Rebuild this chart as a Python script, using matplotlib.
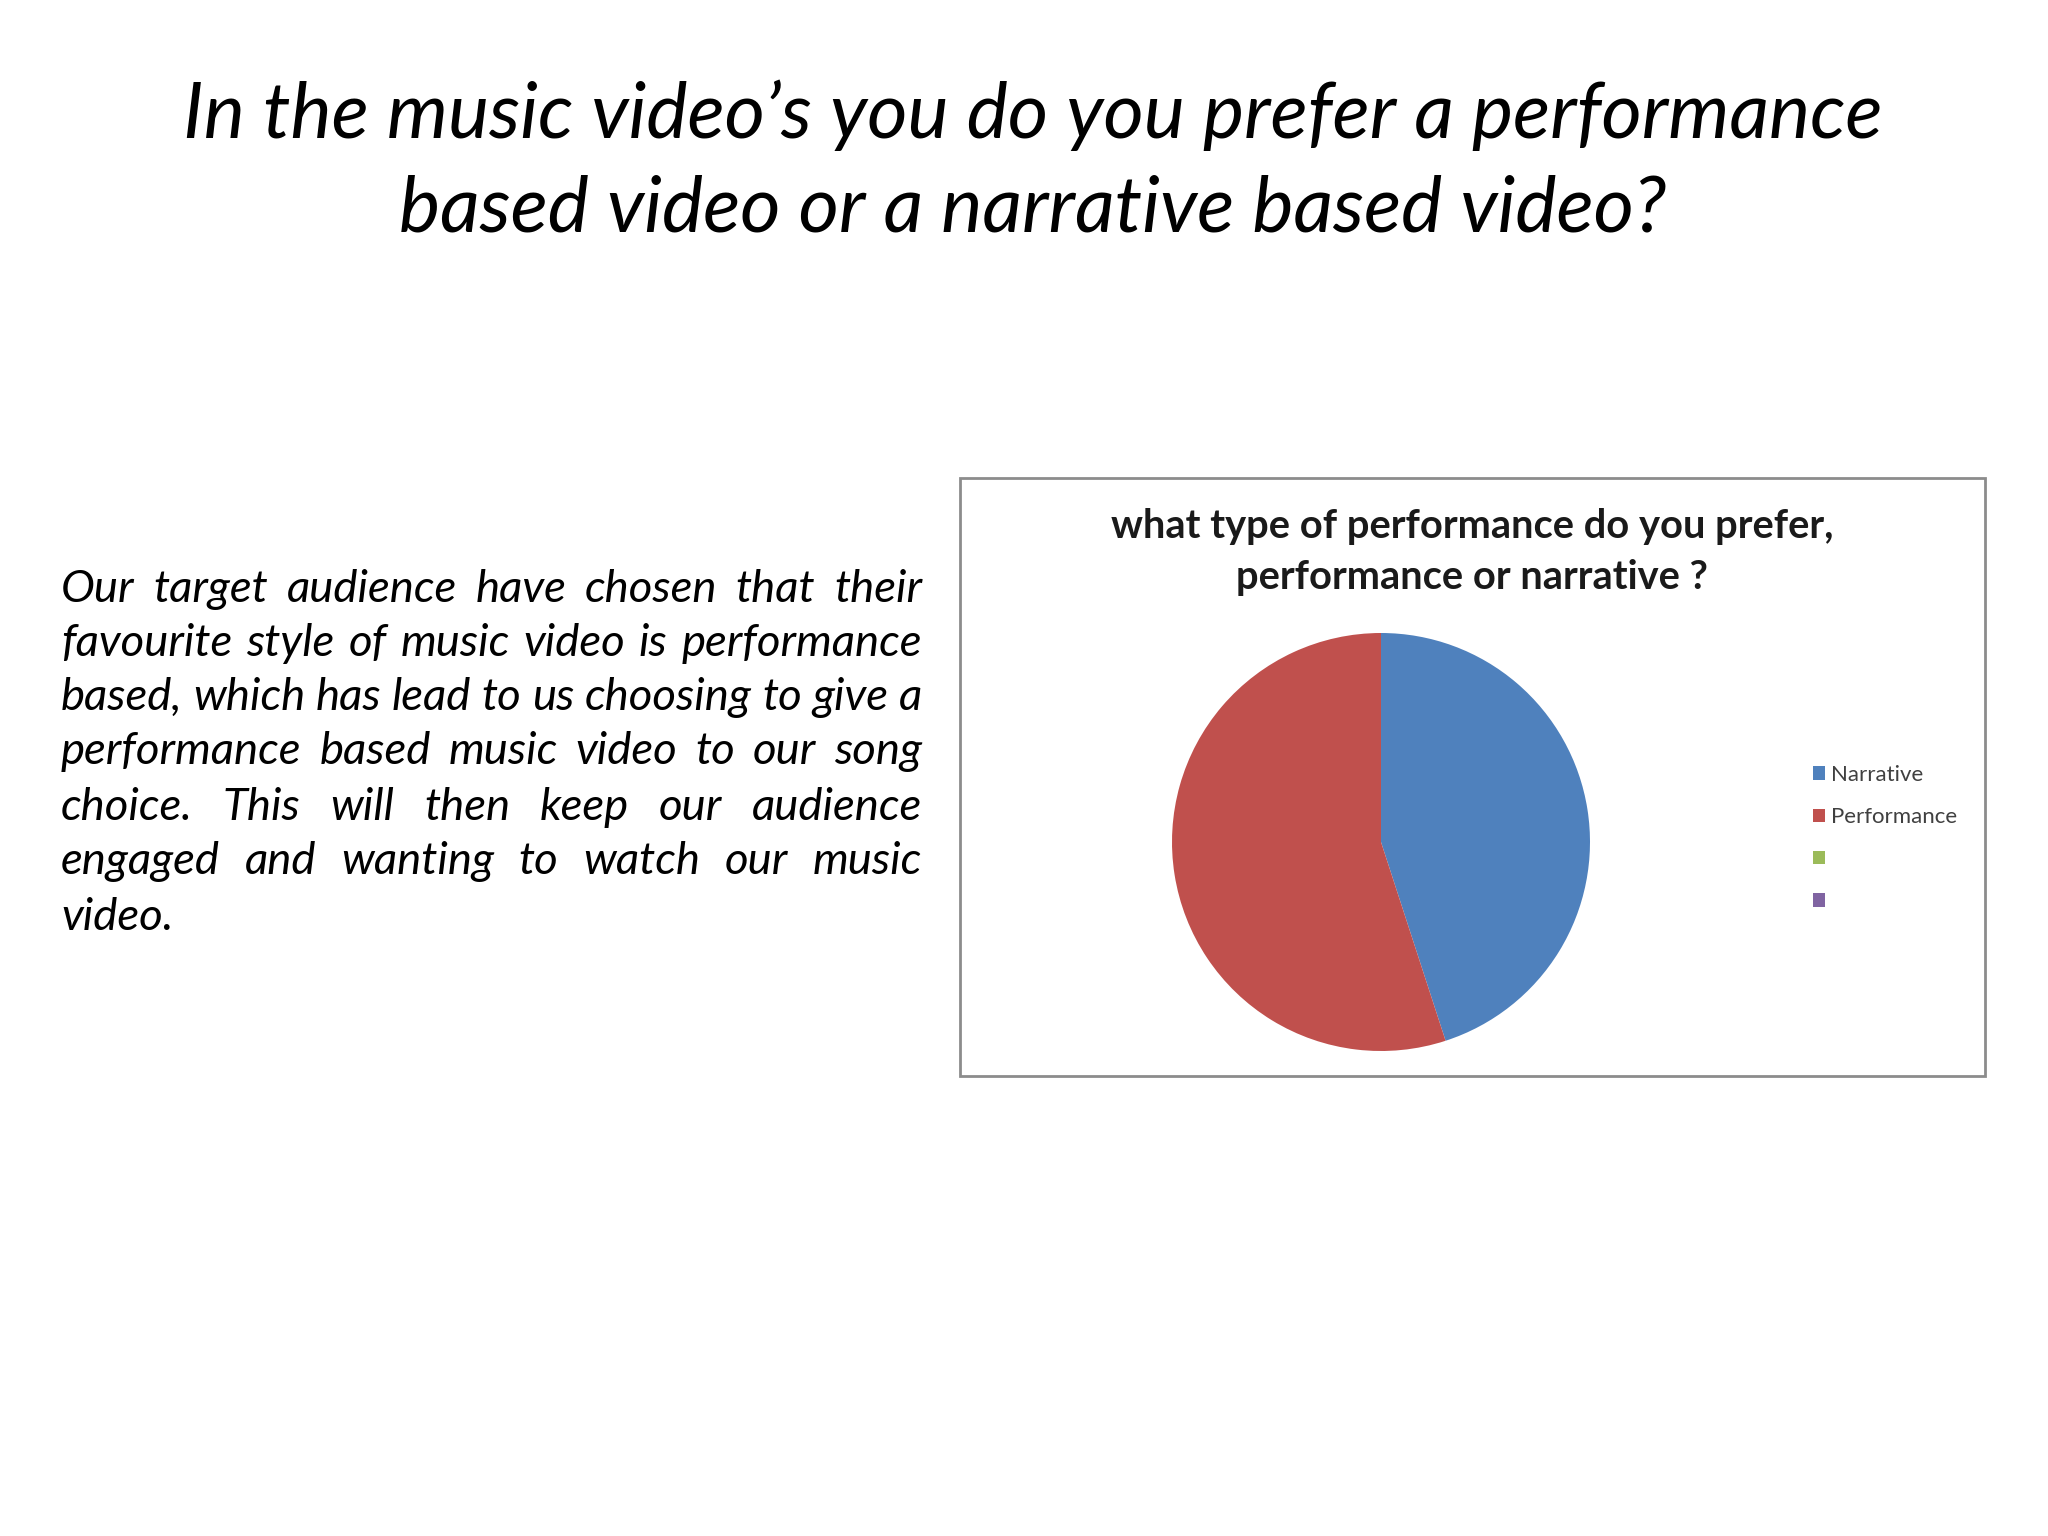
import matplotlib
matplotlib.use("Agg")
import matplotlib.pyplot as plt
from matplotlib.patches import Rectangle, Patch

# ---------------- data ----------------
slide_title = ["In the music video\u2019s you do you prefer a performance",
               "based video or a narrative based video?"]
body_lines = ["Our target audience have chosen that their",
              "favourite style of music video is performance",
              "based, which has lead to us choosing to give a",
              "performance based music video to our song",
              "choice. This will then keep our audience",
              "engaged and wanting to watch our music",
              "video."]
chart_title = ["what type of performance do you prefer,",
               "performance or narrative ?"]
categories = ["Narrative", "Performance", "", ""]
values = [9, 11, 0, 0]
colors = ["#4F81BD", "#C0504D", "#9BBB59", "#8064A2"]

W, H = 2048, 1536
fig = plt.figure(figsize=(20.48, 15.36), dpi=100)
fig.patch.set_facecolor("white")
renderer = fig.canvas.get_renderer()

def px(x, y):
    return x / W, 1 - y / H

def text_w(text, size, **kw):
    t = fig.text(0, 0, text, fontsize=size, **kw)
    w = t.get_window_extent(renderer).width
    t.remove()
    return w

def fit_size(text, target_w, **kw):
    return 20 * target_w / text_w(text, 20, **kw)

# ---------------- slide title ----------------
tfont = dict(family="Lato", style="italic")
ts = fit_size(slide_title[0], 1698, **tfont)
for line, yc in zip(slide_title, [115, 209]):
    fig.text(*px(1033, yc), line, fontsize=ts, ha="center", va="center",
             color="black", **tfont)

# ---------------- justified body text ----------------
bfont = dict(family="Lato", style="italic")
left, right = 61, 922
bsize = fit_size(body_lines[2], right - left, **bfont)
ycs = [589, 644, 697, 752, 807, 862, 917]
for i, (line, yc) in enumerate(zip(body_lines, ycs)):
    words = line.split(" ")
    if i == len(body_lines) - 1 or len(words) == 1:
        fig.text(*px(left, yc), line, fontsize=bsize, ha="left", va="center", **bfont)
        continue
    widths = [text_w(wd, bsize, **bfont) for wd in words]
    gap = (right - left - sum(widths)) / (len(words) - 1)
    x = left
    for wd, w in zip(words, widths):
        fig.text(*px(x, yc), wd, fontsize=bsize, ha="left", va="center", **bfont)
        x += w + gap

# ---------------- chart box ----------------
x0, y0, x1, y1 = 960, 478, 1985, 1076
fig.patches.append(Rectangle((x0 / W, 1 - y1 / H), (x1 - x0) / W, (y1 - y0) / H,
                             transform=fig.transFigure, fill=False,
                             edgecolor="#8C8C8C", linewidth=2))

cfont = dict(family="Lato", weight="bold")
cs = fit_size(chart_title[0], 724, **cfont)
for line, yc in zip(chart_title, [527, 578]):
    fig.text(*px(1472, yc), line, fontsize=cs, ha="center", va="center",
             color="#1a1a1a", **cfont)

# ---------------- pie ----------------
cx, cy, r = 1381, 842, 209
ax = fig.add_axes([(cx - r) / W, 1 - (cy + r) / H, 2 * r / W, 2 * r / H])
wedges, _ = ax.pie(values, colors=colors, startangle=90, counterclock=False,
                   radius=1, wedgeprops=dict(linewidth=0))
ax.set_xlim(-1, 1)
ax.set_ylim(-1, 1)
ax.set_aspect("equal")
ax.axis("off")

handles = [Patch(facecolor=c, edgecolor="none") for c in colors]
fig.legend(handles, categories, loc="upper left",
           bbox_to_anchor=px(1813, 765), frameon=False,
           prop=dict(family="Lato", size=16), labelcolor="#404040",
           handlelength=0.55, handleheight=0.55, handletextpad=0.25,
           labelspacing=1.0, borderpad=0, borderaxespad=0)

fig.savefig("out.png", dpi=100, facecolor="white")
